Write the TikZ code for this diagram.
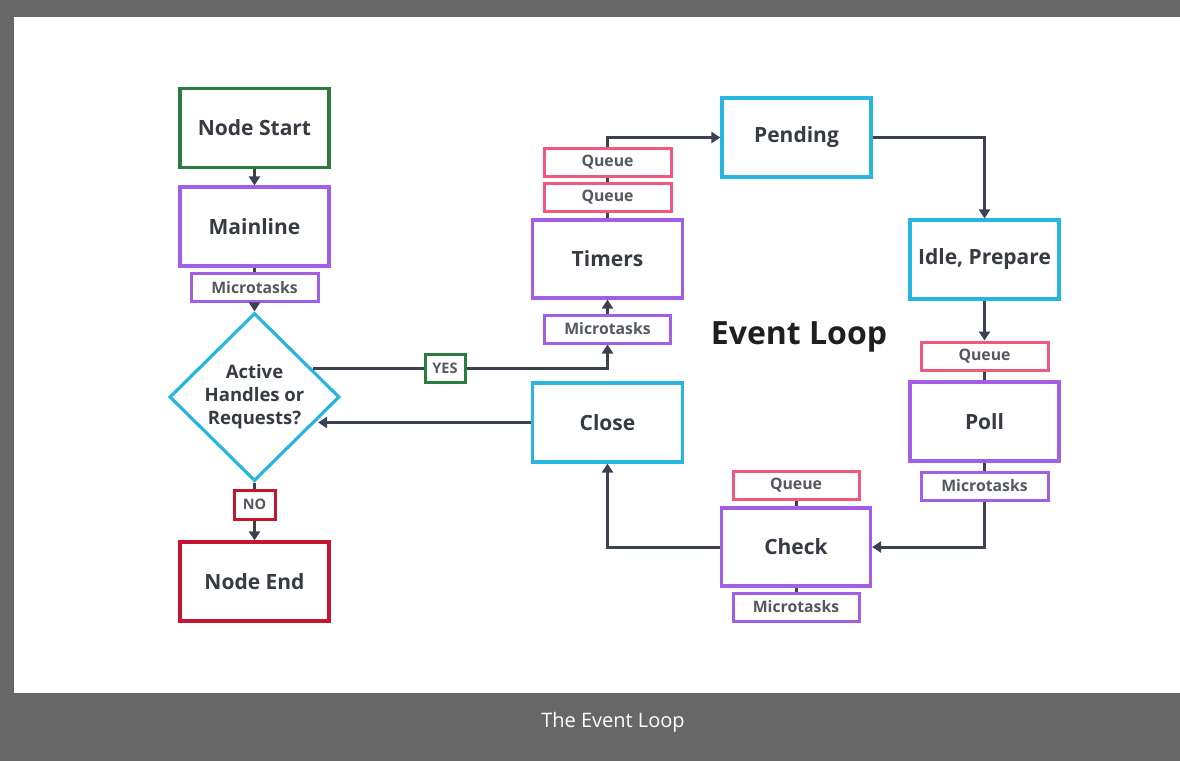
\documentclass[tikz,border=0pt]{standalone}
\usepackage{fontspec}
\setmainfont{Open Sans}
\newfontfamily\labfont{Open Sans}
\usetikzlibrary{shapes.geometric,arrows.meta,calc}
\definecolor{frame}{HTML}{666766}
\definecolor{cgreen}{HTML}{2A7D3E}
\definecolor{cpurple}{HTML}{A35EE8}
\definecolor{ccyan}{HTML}{27B6E0}
\definecolor{cred}{HTML}{C4162E}
\definecolor{cpink}{HTML}{F0587E}
\definecolor{cline}{HTML}{3A4150}
\definecolor{ctext}{HTML}{363B44}
\tikzset{
  box/.style={draw, rectangle, line width=3.2pt, inner sep=0pt, fill=white,
    text=ctext, font=\labfont\bfseries\fontsize{21}{25}\selectfont},
  bigbox/.style={box, minimum width=149pt, minimum height=79pt},
  tag/.style={draw, rectangle, line width=3pt, inner sep=0pt, fill=white,
    text=ctext!85, font=\labfont\bfseries\fontsize{14.5}{18}\selectfont, minimum height=28pt},
  smallbox/.style={tag, minimum width=127pt, font=\labfont\bfseries\fontsize{15.8}{19}\selectfont},
  conn/.style={draw=cline, line width=3pt},
  arr/.style={conn, -{Triangle[length=9pt,width=11pt]}},
}
\begin{document}
\begin{tikzpicture}[x=1pt,y=-1pt]
\useasboundingbox (0,0) rectangle (1180,761);
\fill[frame] (0,0) rectangle (1180,761);
\fill[white] (14,17) rectangle (1180,693);
\node[text=white, font=\fontsize{20}{24}\selectfont] (cap) at (613,722) {The Event Loop};

% left column
\node[bigbox, draw=cgreen] (ns) at (254.5,128) {Node Start};
\node[bigbox, draw=cpurple] (ml) at (254.5,226.5) {Mainline};
\node[smallbox, draw=cpurple] (mt1) at (254.5,287.5) {Microtasks};
\node[diamond, draw=ccyan, line width=3.2pt, inner sep=0pt, minimum width=170pt, minimum height=168pt,
  align=center, text=ctext, font=\labfont\bfseries\fontsize{18.5}{23}\selectfont] (dec) at (254.5,397)
  {Active\\Handles or\\Requests?};
\node[tag, draw=cgreen, minimum width=40pt] (yes) at (445,368) {YES};
\node[tag, draw=cred, minimum width=41pt, minimum height=29pt] (no) at (254.5,504.5) {NO};
\node[bigbox, draw=cred] (ne) at (254.5,581.5) {Node End};

% loop
\node[bigbox, draw=cpurple, minimum width=150pt, minimum height=78pt] (tm) at (607.5,259) {Timers};
\node[smallbox, draw=cpink] (q1) at (607.5,162) {Queue};
\node[smallbox, draw=cpink] (q2) at (607.5,197) {Queue};
\node[smallbox, draw=cpurple, minimum width=126pt] (mt2) at (607.5,329) {Microtasks};
\node[bigbox, draw=ccyan] (pd) at (796.5,137.5) {Pending};
\node[bigbox, draw=ccyan] (idle) at (984.5,259.5) {Idle, Prepare};
\node[smallbox, draw=cpink] (q3) at (984.5,356) {Queue};
\node[bigbox, draw=cpurple] (poll) at (984.5,421.5) {Poll};
\node[smallbox, draw=cpurple] (mt3) at (984.5,486) {Microtasks};
\node[bigbox, draw=cpurple, minimum height=78pt] (chk) at (796,547) {Check};
\node[smallbox, draw=cpink, minimum width=126pt] (q4) at (796,485) {Queue};
\node[smallbox, draw=cpurple, minimum width=126pt] (mt4) at (796,607) {Microtasks};
\node[bigbox, draw=ccyan, minimum width=150pt] (cl) at (607.5,422.5) {Close};
\node[text=black!88, font=\labfont\bfseries\fontsize{32}{38}\selectfont] (title) at (799,337) {Event Loop};

% connectors
\draw[arr] (ns.south) -- (ml.north);
\draw[conn] (ml.south) -- (mt1.north);
\draw[arr] (mt1.south) -- (dec.north);
\coordinate (dyes) at ($(yes.west -| dec.east)+(-28,0)$);
\coordinate (dclose) at ($(cl.west -| dec.east)+(-23,0)$);
\draw[conn] (dyes) -- (yes.west);
\draw[arr] (yes.east) -| (mt2.south);
\draw[arr] (cl.west) -- (dclose);
\draw[conn] (dec.south) -- (no.north);
\draw[arr] (no.south) -- (ne.north);
\draw[arr] (mt2.north) -- (tm.south);
\draw[conn] (tm.north) -- (q2.south);
\draw[conn] (q2.north) -- (q1.south);
\draw[arr] (q1.north) |- (pd.west);
\draw[arr] (pd.east) -| (idle.north);
\draw[arr] (idle.south) -- (q3.north);
\draw[conn] (q3.south) -- (poll.north);
\draw[conn] (poll.south) -- (mt3.north);
\draw[arr] (mt3.south) |- (chk.east);
\draw[conn] (q4.south) -- (chk.north);
\draw[conn] (chk.south) -- (mt4.north);
\draw[arr] (chk.west) -| (cl.south);
\end{tikzpicture}
\end{document}
